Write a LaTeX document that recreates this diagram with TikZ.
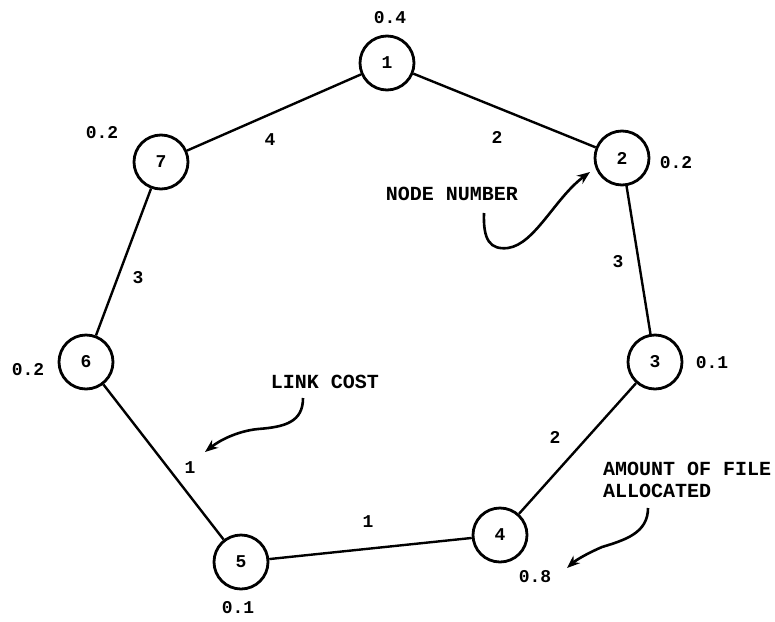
\documentclass[tikz,border=0pt]{standalone}
\usepackage{fontspec}
\newfontfamily\tw{Liberation Mono}
\usetikzlibrary{arrows.meta}
\begin{document}
\begin{tikzpicture}[x=1pt,y=-1pt,
  fnode/.style={circle,draw,line width=2.8pt,minimum size=54pt,inner sep=0pt,font=\tw\bfseries\fontsize{18}{20}\selectfont},
  num/.style={font=\tw\bfseries\fontsize{18}{20}\selectfont,inner sep=0pt},
  note/.style={font=\tw\bfseries\fontsize{20}{24}\selectfont,inner sep=0pt,align=left},
  link/.style={line width=2.4pt},
  pointer/.style={line width=2.6pt,-{Stealth[length=13pt,width=10pt]}}]
\useasboundingbox (0,0) rectangle (775,621);
% nodes
\node[fnode] (n1) at (387,63) {1};
\node[fnode] (n2) at (622,158) {2};
\node[fnode] (n3) at (655,362) {3};
\node[fnode] (n4) at (500,535) {4};
\node[fnode] (n5) at (241,562) {5};
\node[fnode] (n6) at (86,362) {6};
\node[fnode] (n7) at (161,162) {7};
% links
\draw[link] (n1) -- (n2);
\draw[link] (n2) -- (n3);
\draw[link] (n3) -- (n4);
\draw[link] (n4) -- (n5);
\draw[link] (n5) -- (n6);
\draw[link] (n6) -- (n7);
\draw[link] (n7) -- (n1);
% link costs
\node[num] (c71) at (270,140) {4};
\node[num] (c12) at (497,137) {2};
\node[num] (c23) at (618,262) {3};
\node[num] (c34) at (555,437) {2};
\node[num] (c45) at (368,522) {1};
\node[num] (c56) at (190,468) {1};
\node[num] (c67) at (138,278) {3};
% file amounts
\node[num] (a1) at (390,18) {0.4};
\node[num] (a2) at (676,163) {0.2};
\node[num] (a3) at (712,363) {0.1};
\node[num] (a4) at (535,577) {0.8};
\node[num] (a5) at (238,608) {0.1};
\node[num] (a6) at (28,370) {0.2};
\node[num] (a7) at (102,133) {0.2};
% annotations
\node[note] (tnode) at (452,194) {NODE NUMBER};
\node[note] (tlink) at (325,382) {LINK COST};
\node[note,anchor=west] (tamount) at (603,480) {AMOUNT OF FILE\\[-2pt]ALLOCATED};
% pointer arrows
\coordinate (p1s) at (484,213);
\coordinate (p1m) at (508,248);
\coordinate (p1e) at (590,172);
\draw[pointer] (p1s) .. controls (483,240) and (490,250) .. (p1m)
  .. controls (535,244) and (555,198) .. (p1e);
\coordinate (p2s) at (303,398);
\coordinate (p2m) at (258,429);
\coordinate (p2e) at (205,452);
\draw[pointer] (p2s) .. controls (303,422) and (285,427) .. (p2m)
  .. controls (238,431) and (220,440) .. (p2e);
\coordinate (p3s) at (648,508);
\coordinate (p3m) at (602,547);
\coordinate (p3e) at (567,568);
\draw[pointer] (p3s) .. controls (648,533) and (625,540) .. (p3m)
  .. controls (588,553) and (576,560) .. (p3e);
\end{tikzpicture}
\end{document}
